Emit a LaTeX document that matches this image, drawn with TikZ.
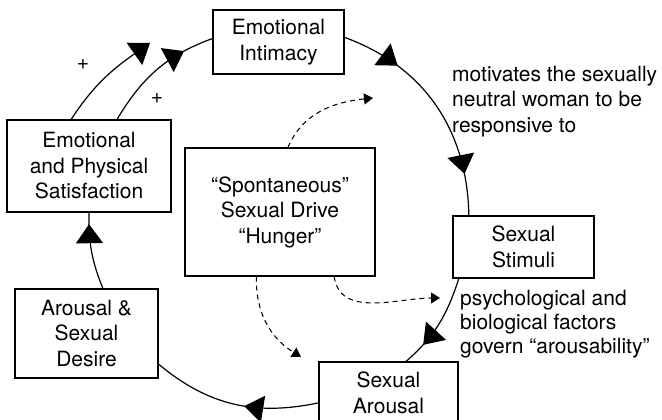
\documentclass[tikz,border=0pt]{standalone}
\usepackage{fontspec}
\setmainfont{TeX Gyre Heros}
\usetikzlibrary{arrows.meta,decorations.markings}
\tikzset{
  Big/.tip={Triangle[length=19pt,width=27pt]},
  Small/.tip={Triangle[length=9pt,width=11pt]},
}
\begin{document}
\begin{tikzpicture}[x=1pt,y=1pt,
  stage/.style={draw, line width=1.1pt, inner sep=0pt, align=center,
    font=\fontsize{21}{25.5}\selectfont},
  note/.style={inner sep=0pt, align=left, anchor=north west},
  cycle/.style={line width=1.2pt},
  headat/.style={postaction={decorate,decoration={markings,
    mark=at position #1 with {\arrow{Big}}}}},
  drive/.style={line width=1.05pt, dash pattern=on 5pt off 4pt, -{Small}},
  sign/.style={inner sep=0pt, font=\fontsize{21}{25}\selectfont}
]
\useasboundingbox (0,0) rectangle (662,420);

% stages of the cycle
\node[stage, minimum width=131pt, minimum height=64pt] (intim) at (278.5,378) {Emotional\\Intimacy};
\node[stage, minimum width=164pt, minimum height=92pt] (satis) at (89,254) {Emotional\\and Physical\\Satisfaction};
\node[stage, minimum width=190pt, minimum height=128pt] (spont) at (280,208) {“Spontaneous”\\Sexual Drive\\“Hunger”};
\node[stage, minimum width=141pt, minimum height=62pt] (stim) at (523.5,173) {Sexual\\Stimuli};
\node[stage, minimum width=139pt, minimum height=62pt] (sarous) at (388.5,27) {Sexual\\Arousal};
\node[stage, minimum width=143pt, minimum height=89pt] (desire) at (86.5,86.5) {Arousal \&\\Sexual\\Desire};

% side notes
\node[note, font=\fontsize{21}{25.5}\selectfont] (motiv) at (452,354.4) {motivates the sexually\\neutral woman to be\\responsive to};
\node[note, font=\fontsize{21}{24}\selectfont] (govern) at (460,130.1) {psychological and\\biological factors\\govern “arousability”};

\node[sign] (plusA) at (83,355) {+};
\node[sign] (plusB) at (157,321) {+};

% free ends
\coordinate (tipA) at (150,377);
\coordinate (tipD1) at (373,322);
\coordinate (tipD2) at (440,122);
\coordinate (tipD3) at (301,63);

% the cycle
\draw[cycle, headat=0.26, headat=0.82] (intim.4) to[out=-20,in=91] (stim.150);
\draw[cycle, headat=0.76] (stim.206) to[out=-108,in=41] (sarous.61);
\draw[cycle, headat=0.436] (sarous.188) to[out=-168,in=-40] (desire.-23);
\draw[cycle, headat=0.85] (desire.70) to[out=112,in=-91] (satis.south);
\draw[cycle, headat=0.757] (satis.59) to[out=59,in=200] (intim.177);
\draw[cycle, -{Big}] (satis.111) to[out=57,in=215] (tipA);

% influence of spontaneous drive
\draw[drive] (spont.83) to[out=67,in=186] (tipD1);
\draw[drive] (spont.-50) to[out=-82,in=180] (tipD2);
\draw[drive] (spont.-110) to[out=-92,in=148] (tipD3);
\end{tikzpicture}
\end{document}
